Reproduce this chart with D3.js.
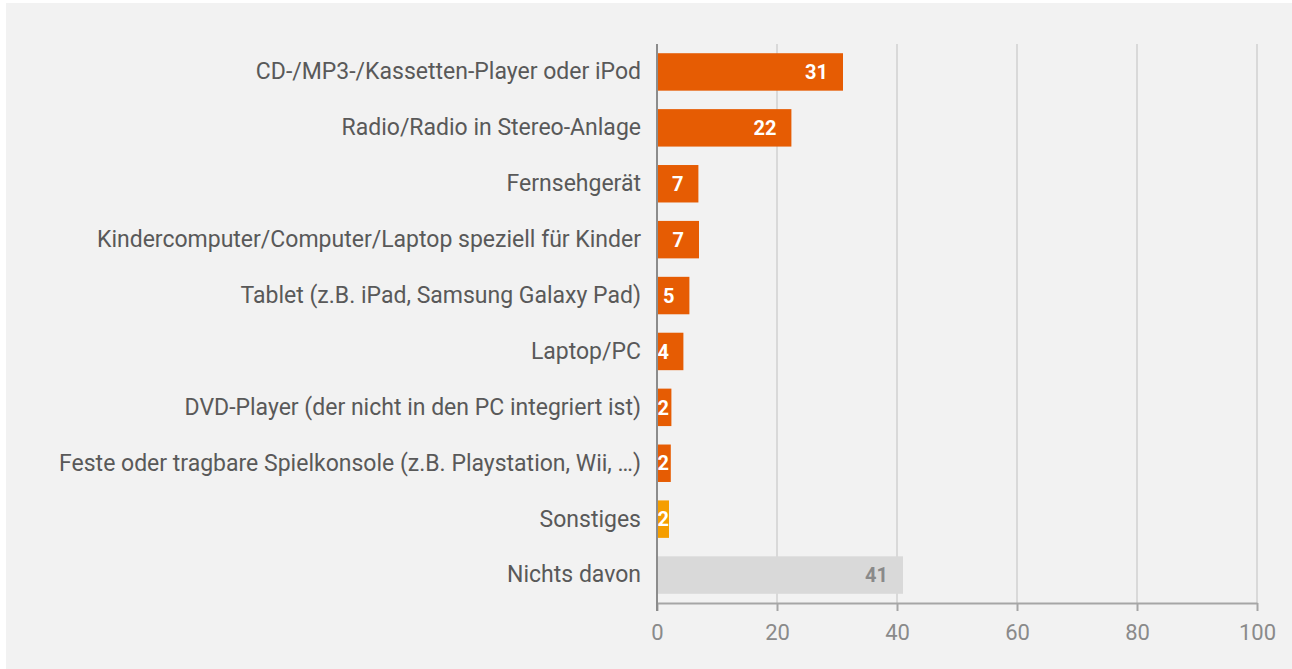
<!DOCTYPE html>
<html>
<head>
<meta charset="utf-8">
<script src="https://cdn.jsdelivr.net/npm/d3@7"></script>
<style>
  html, body { margin: 0; padding: 0; background: #ffffff; }
  svg { display: block; }
  text { font-family: Roboto, "Noto Sans", sans-serif; }
</style>
</head>
<body>
<svg id="chart" width="1292" height="669"></svg>
<script>
// Geräte, die Kinder selbst besitzen (Angaben in Prozent)
const categories = [
  "CD-/MP3-/Kassetten-Player oder iPod",
  "Radio/Radio in Stereo-Anlage",
  "Fernsehgerät",
  "Kindercomputer/Computer/Laptop speziell für Kinder",
  "Tablet (z.B. iPad, Samsung Galaxy Pad)",
  "Laptop/PC",
  "DVD-Player (der nicht in den PC integriert ist)",
  "Feste oder tragbare Spielkonsole (z.B. Playstation, Wii, …)",
  "Sonstiges",
  "Nichts davon"
];
const values = [31.0, 22.4, 6.9, 7.0, 5.4, 4.4, 2.4, 2.3, 2.0, 41.0];
const groups = ["geraet", "geraet", "geraet", "geraet", "geraet", "geraet", "geraet", "geraet", "sonstiges", "nichts"];
const xTicks = [0, 20, 40, 60, 80, 100];

const fillColor = { geraet: "#e65c03", sonstiges: "#f59e00", nichts: "#d9d9d9" };
const labelColor = { geraet: "#ffffff", sonstiges: "#ffffff", nichts: "#8a8a8a" };

const svg = d3.select("#chart");

// panel background
svg.append("rect")
  .attr("x", 6).attr("y", 3)
  .attr("width", 1292 - 6).attr("height", 669 - 3)
  .attr("fill", "#f2f2f2");

const margin = { left: 657, right: 35, top: 44, bottom: 66 };
const width = 1292 - margin.left - margin.right;
const height = 669 - margin.top - margin.bottom;

const g = svg.append("g").attr("transform", `translate(${margin.left},${margin.top})`);

const x = d3.scaleLinear().domain([0, 100]).range([0, width]);
const y = d3.scaleBand().domain(categories).range([0, height]).paddingInner(0.33).paddingOuter(0.165);

// vertical gridlines
g.append("g")
  .selectAll("line")
  .data(xTicks.filter(t => t > 0))
  .join("line")
  .attr("x1", d => x(d)).attr("x2", d => x(d))
  .attr("y1", 0).attr("y2", height)
  .attr("stroke", "#d9d9d9")
  .attr("stroke-width", 2);

// bars
const data = categories.map((c, i) => ({ cat: c, value: values[i], group: groups[i] }));

g.append("g")
  .selectAll("rect")
  .data(data)
  .join("rect")
  .attr("x", x(0))
  .attr("y", d => y(d.cat))
  .attr("width", d => x(d.value) - x(0))
  .attr("height", y.bandwidth())
  .attr("fill", d => fillColor[d.group]);

// value labels inside the bars
g.append("g")
  .selectAll("text")
  .data(data)
  .join("text")
  .attr("x", d => Math.max(x(d.value) - 15, x(0) + 12))
  .attr("y", d => y(d.cat) + y.bandwidth() / 2)
  .attr("dy", "0.36em")
  .attr("text-anchor", "end")
  .attr("font-size", 20)
  .attr("font-weight", 700)
  .attr("fill", d => labelColor[d.group])
  .text(d => d3.format(".0f")(d.value));

// x axis
const xAxis = g.append("g")
  .attr("transform", `translate(0,${height})`)
  .call(d3.axisBottom(x).tickValues(xTicks).tickSize(8).tickPadding(13).tickSizeOuter(0));
xAxis.select(".domain").attr("stroke", "#a6a6a6").attr("stroke-width", 2);
xAxis.selectAll(".tick line").attr("stroke", "#a6a6a6").attr("stroke-width", 2);
xAxis.selectAll(".tick text")
  .attr("font-size", 22)
  .attr("fill", "#8a8a8a")
  .style("font-family", "Roboto, 'Noto Sans', sans-serif");

// y axis (category labels)
const yAxis = g.append("g")
  .call(d3.axisLeft(y).tickSize(0).tickPadding(16));
yAxis.select(".domain").remove();
yAxis.selectAll(".tick text")
  .attr("font-size", 23)
  .attr("fill", "#595959")
  .style("font-family", "Roboto, 'Noto Sans', sans-serif");

// zero line
g.append("line")
  .attr("x1", x(0)).attr("x2", x(0))
  .attr("y1", 0).attr("y2", height + 8)
  .attr("stroke", "#8c8c8c")
  .attr("stroke-width", 2);
</script>
</body>
</html>
